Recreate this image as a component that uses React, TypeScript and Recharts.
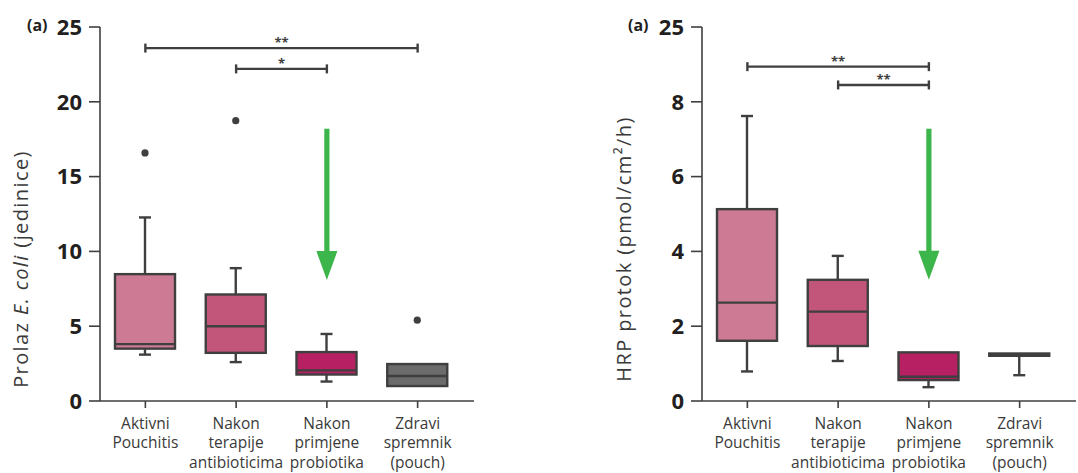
import { ComposedChart, Bar, XAxis, YAxis, ReferenceLine } from "recharts";

// categories (x-axis) and their wrapped tick lines
const GROUPS = [
  "Aktivni Pouchitis",
  "Nakon terapije antibioticima",
  "Nakon primjene probiotika",
  "Zdravi spremnik (pouch)",
];
const GROUP_LINES = [
  ["Aktivni", "Pouchitis"],
  ["Nakon", "terapije", "antibioticima"],
  ["Nakon", "primjene", "probiotika"],
  ["Zdravi", "spremnik", "(pouch)"],
];

// left panel: E. coli passage
const ECOLI_MIN = [3.1, 2.6, 1.3, 1.0];
const ECOLI_Q1 = [3.5, 3.22, 1.77, 1.0];
const ECOLI_MEDIAN = [3.8, 5.0, 2.05, 1.67];
const ECOLI_Q3 = [8.48, 7.12, 3.27, 2.47];
const ECOLI_MAX = [12.27, 8.88, 4.48, 2.47];
const ECOLI_OUTLIERS = [[16.58], [18.74], [], [5.4]];
const ECOLI_TICKS = [0, 5, 10, 15, 20, 25];
const ECOLI_TICK_LABELS = ["0", "5", "10", "15", "20", "25"];
const ECOLI_SIG = [
  { from: 0, to: 3, y: 23.59, label: "**" },
  { from: 1, to: 2, y: 22.2, label: "*" },
];
const ECOLI_ARROW = [18.2, 8.08];

// right panel: HRP flux
const HRP_MIN = [0.79, 1.07, 0.37, 0.69];
const HRP_Q1 = [1.61, 1.47, 0.56, 1.21];
const HRP_MEDIAN = [2.63, 2.39, 0.65, 1.21];
const HRP_Q3 = [5.13, 3.24, 1.3, 1.27];
const HRP_MAX = [7.62, 3.88, 1.3, 1.27];
const HRP_OUTLIERS = [[], [], [], []];
const HRP_TICKS = [0, 2, 4, 6, 8, 10];
const HRP_TICK_LABELS = ["0", "2", "4", "6", "8", "25"];
const HRP_SIG = [
  { from: 0, to: 2, y: 8.94, label: "**" },
  { from: 1, to: 2, y: 8.45, label: "**" },
];
const HRP_ARROW = [7.28, 3.24];

const BOX_FILLS = ["#cd7b94", "#c2567a", "#b72163", "#6b6b6b"];
const INK = "#3f3f3f";
const FONT = "'Open Sans', 'Noto Sans', sans-serif";

function buildRows(mins: number[], q1s: number[], meds: number[], q3s: number[], maxs: number[], outs: number[][]) {
  return GROUPS.map((g, i) => ({
    group: g,
    min: mins[i],
    q1: q1s[i],
    median: meds[i],
    q3: q3s[i],
    max: maxs[i],
    outliers: outs[i],
    lo: Math.min(mins[i], ...outs[i]),
    hi: Math.max(maxs[i], ...outs[i]),
  }));
}

const ecoliRows = buildRows(ECOLI_MIN, ECOLI_Q1, ECOLI_MEDIAN, ECOLI_Q3, ECOLI_MAX, ECOLI_OUTLIERS);
const hrpRows = buildRows(HRP_MIN, HRP_Q1, HRP_MEDIAN, HRP_Q3, HRP_MAX, HRP_OUTLIERS);

// the bar spans [lo, hi]; every other value is placed on the same linear scale
function BoxShape(props: any) {
  const { x, y, width, height, payload, index } = props;
  const d = payload;
  const top = Math.min(y, y + height);
  const bot = Math.max(y, y + height);
  const k = (bot - top) / (d.hi - d.lo);
  const py = (v: number) => top + (d.hi - v) * k;
  const cx = x + width / 2;
  const cap = 6;
  const sw = 2.4;
  return (
    <g>
      {d.max > d.q3 && (
        <g stroke={INK} strokeWidth={sw}>
          <line x1={cx} x2={cx} y1={py(d.max)} y2={py(d.q3)} />
          <line x1={cx - cap} x2={cx + cap} y1={py(d.max)} y2={py(d.max)} />
        </g>
      )}
      {d.min < d.q1 && (
        <g stroke={INK} strokeWidth={sw}>
          <line x1={cx} x2={cx} y1={py(d.q1)} y2={py(d.min)} />
          <line x1={cx - cap} x2={cx + cap} y1={py(d.min)} y2={py(d.min)} />
        </g>
      )}
      <rect
        x={x}
        y={py(d.q3)}
        width={width}
        height={py(d.q1) - py(d.q3)}
        fill={BOX_FILLS[index]}
        stroke={INK}
        strokeWidth={sw}
      />
      <line x1={x} x2={x + width} y1={py(d.median)} y2={py(d.median)} stroke={INK} strokeWidth={sw} />
      {d.outliers.map((o: number, j: number) => (
        <circle key={j} cx={cx} cy={py(o)} r={3.6} fill={INK} />
      ))}
    </g>
  );
}

function SigBracket(props: any) {
  const { x1, y1, x2, label } = props;
  return (
    <g>
      <line x1={x1} x2={x2} y1={y1} y2={y1} stroke={INK} strokeWidth={2.4} />
      <line x1={x1} x2={x1} y1={y1 - 4.5} y2={y1 + 4.5} stroke={INK} strokeWidth={2.4} />
      <line x1={x2} x2={x2} y1={y1 - 4.5} y2={y1 + 4.5} stroke={INK} strokeWidth={2.4} />
      <text
        x={(x1 + x2) / 2}
        y={y1 - 1}
        textAnchor="middle"
        fontFamily={FONT}
        fontWeight={700}
        fontSize={13}
        fill={INK}
      >
        {label}
      </text>
    </g>
  );
}

function GreenArrow(props: any) {
  const { x1, y1, y2 } = props;
  const headLen = 29;
  const headHalf = 10.5;
  const shaftHalf = 2.6;
  const neck = y2 - headLen;
  return (
    <g fill="#3cb54a">
      <rect x={x1 - shaftHalf} y={y1} width={shaftHalf * 2} height={neck - y1 + 1} />
      <polygon points={`${x1 - headHalf},${neck} ${x1 + headHalf},${neck} ${x1},${y2}`} />
    </g>
  );
}

function GroupTick(props: any) {
  const { x, y, payload } = props;
  const lines = GROUP_LINES[GROUPS.indexOf(payload.value)] || [];
  return (
    <text x={x} y={y + 18.5} textAnchor="middle" fontFamily={FONT} fontSize={15.5} fill="#3a3a3a">
      {lines.map((l, i) => (
        <tspan key={i} x={x} dy={i === 0 ? 0 : 19.8}>
          {l}
        </tspan>
      ))}
    </text>
  );
}

interface PanelProps {
  rows: any[];
  ticks: number[];
  tickLabels: string[];
  sig: { from: number; to: number; y: number; label: string }[];
  arrow: number[];
  yLabel: React.ReactNode;
  labelX: number;
  labelY: number;
}

function BoxPanel({ rows, ticks, tickLabels, sig, arrow, yLabel, labelX, labelY }: PanelProps) {
  return (
    <ComposedChart
      width={476}
      height={473}
      data={rows}
      margin={{ top: 27, right: 2, bottom: 12, left: 40 }}
    >
      <XAxis
        dataKey="group"
        type="category"
        height={60}
        padding={{ left: 0, right: 11 }}
        axisLine={{ stroke: INK, strokeWidth: 1.6 }}
        tickLine={{ stroke: INK, strokeWidth: 1.6 }}
        tickSize={7}
        tickMargin={2}
        interval={0}
        tick={<GroupTick />}
      />
      <YAxis
        type="number"
        domain={[ticks[0], ticks[ticks.length - 1]]}
        ticks={ticks}
        width={60}
        tickSize={11}
        tickMargin={7}
        axisLine={{ stroke: INK, strokeWidth: 1.6 }}
        tickLine={{ stroke: INK, strokeWidth: 1.6 }}
        tick={{ fill: "#231f20", fontSize: 22, fontWeight: 700, fontFamily: FONT }}
        tickFormatter={(v: number) => tickLabels[ticks.indexOf(v)]}
        label={() => (
          <text
            x={labelX}
            y={labelY}
            transform={`rotate(-90 ${labelX} ${labelY})`}
            textAnchor="middle"
            fontFamily={FONT}
            fontSize={20}
            letterSpacing={1.4}
            fill="#3a3a3a"
          >
            {yLabel}
          </text>
        )}
      />
      <Bar
        dataKey={(d: any) => [d.lo, d.hi]}
        barSize={60}
        shape={<BoxShape />}
        isAnimationActive={false}
      />
      {sig.map((s, i) => (
        <ReferenceLine
          key={`sig${i}`}
          segment={[
            { x: GROUPS[s.from], y: s.y },
            { x: GROUPS[s.to], y: s.y },
          ]}
          shape={(p: any) => <SigBracket {...p} label={s.label} />}
        />
      ))}
      <ReferenceLine
        segment={[
          { x: GROUPS[2], y: arrow[0] },
          { x: GROUPS[2], y: arrow[1] },
        ]}
        shape={(p: any) => <GreenArrow {...p} />}
      />
    </ComposedChart>
  );
}

const panelTag = (left: number) => (
  <span
    style={{
      position: "absolute",
      left,
      top: 14,
      fontFamily: FONT,
      fontWeight: 700,
      fontSize: 16,
      color: "#231f20",
    }}
  >
    (a)
  </span>
);

export default function App() {
  return (
    <div
      style={{
        position: "absolute",
        left: 0,
        top: 0,
        width: 1078,
        height: 473,
        background: "#fff",
        overflow: "hidden",
      }}
    >
      <div style={{ position: "absolute", left: 0, top: 0 }}>
        <BoxPanel
          rows={ecoliRows}
          ticks={ECOLI_TICKS}
          tickLabels={ECOLI_TICK_LABELS}
          sig={ECOLI_SIG}
          arrow={ECOLI_ARROW}
          labelX={28}
          labelY={269}
          yLabel={
            <>
              Prolaz <tspan fontStyle="italic">E. coli</tspan> (jedinice)
            </>
          }
        />
      </div>
      <div style={{ position: "absolute", left: 602, top: 0 }}>
        <BoxPanel
          rows={hrpRows}
          ticks={HRP_TICKS}
          tickLabels={HRP_TICK_LABELS}
          sig={HRP_SIG}
          arrow={HRP_ARROW}
          labelX={29}
          labelY={249}
          yLabel="HRP protok (pmol/cm²/h)"
        />
      </div>
      {panelTag(27)}
      {panelTag(628)}
    </div>
  );
}
